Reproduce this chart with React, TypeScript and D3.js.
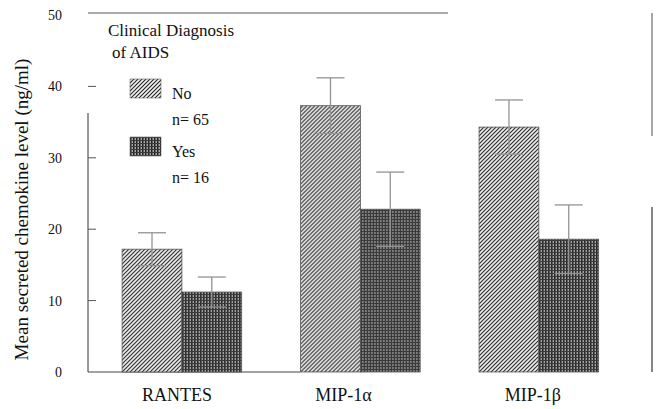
import React from "react";
import * as d3 from "d3";

const categories = ["RANTES", "MIP-1α", "MIP-1β"];
const seriesNames = ["No", "Yes"];
const seriesN = ["n= 65", "n= 16"];
const noValues = [17.2, 37.3, 34.3];
const yesValues = [11.2, 22.8, 18.6];
const noErrors = [2.3, 3.9, 3.8];
const yesErrors = [2.1, 5.2, 4.8];
const yTicks = [0, 10, 20, 30, 40, 50];
const yLabel = "Mean secreted chemokine level  (ng/ml)";
const legendTitle = ["Clinical Diagnosis", "of AIDS"];

const W = 659;
const H = 409;
const left = 88;
const right = 652;
const top = 15;
const bottom = 372;
const labelDx = [-5, -17, -6];

export default function App() {
  const y = d3.scaleLinear().domain([0, 50]).range([bottom, top]);
  const x = d3
    .scaleBand<string>()
    .domain(categories)
    .range([left, right])
    .paddingInner(0.33)
    .paddingOuter(0.245)
    .align(0.39);
  const xs = d3.scaleBand<string>().domain(seriesNames).range([0, x.bandwidth()]).padding(0);
  const values = [noValues, yesValues];
  const errors = [noErrors, yesErrors];
  const fills = ["url(#hatchNo)", "url(#hatchYes)"];
  const capW = 28;
  const frameTop = y(50) - 2;

  return (
    <svg width={W} height={H} style={{ position: "absolute", left: 0, top: 0, background: "#fff" }}>
      <style>{`.t { font-family: 'Liberation Serif', Tinos, serif; fill: #111; }`}</style>
      <defs>
        <pattern id="hatchNo" patternUnits="userSpaceOnUse" width={4} height={4}>
          <rect width={4} height={4} fill="#f2f2f2" />
          <path d="M-1,1 l2,-2 M0,4 l4,-4 M3,5 l2,-2" stroke="#2a2a2a" strokeWidth={1.2} />
        </pattern>
        <pattern id="hatchYes" patternUnits="userSpaceOnUse" width={3} height={3}>
          <rect width={3} height={3} fill="#a8a8a8" />
          <rect x={0} y={0} width={1.5} height={3} fill="#1e1e1e" />
          <rect x={0} y={0} width={3} height={1} fill="#3a3a3a" />
        </pattern>
      </defs>

      {/* frame (partially faded as in the scan) */}
      <line x1={left} x2={left} y1={113} y2={bottom} stroke="#333" strokeWidth={1} />
      <line x1={left} x2={448} y1={frameTop} y2={frameTop} stroke="#555" strokeWidth={1} />
      <line x1={right} x2={right} y1={frameTop} y2={136} stroke="#777" strokeWidth={1.3} />
      <line x1={right} x2={right} y1={207} y2={bottom} stroke="#444" strokeWidth={1.3} />
      <line x1={left} x2={300} y1={bottom} y2={bottom} stroke="#444" strokeWidth={1} />

      {/* y ticks */}
      {yTicks.map((t) => (
        <g key={t}>
          {t > 0 && t < 50 && (
            <line x1={left} x2={left + 8} y1={y(t)} y2={y(t)} stroke="#555" strokeWidth={1} />
          )}
          <text className="t" x={62} y={y(t)} dy="0.35em" fontSize={14} textAnchor="end">
            {t}
          </text>
        </g>
      ))}

      <text
        className="t"
        transform={`translate(28, ${(top + bottom) / 2 + 16}) rotate(-90)`}
        fontSize={19}
        textAnchor="middle"
      >
        {yLabel}
      </text>

      {/* bars */}
      {categories.map((c, ci) => (
        <g key={c} transform={`translate(${x(c)},0)`}>
          {seriesNames.map((s, si) => {
            const v = values[si][ci];
            return (
              <rect
                key={s}
                x={xs(s)}
                y={y(v)}
                width={xs.bandwidth()}
                height={y(0) - y(v)}
                fill={fills[si]}
                stroke="#555"
                strokeWidth={0.8}
              />
            );
          })}
          {seriesNames.map((s, si) => {
            const v = values[si][ci];
            const e = errors[si][ci];
            const cx = (xs(s) as number) + xs.bandwidth() / 2;
            return (
              <g key={s + "e"} stroke="#939393" strokeWidth={1.3}>
                <line x1={cx} x2={cx} y1={y(v + e)} y2={y(v - e)} />
                <line x1={cx - capW / 2} x2={cx + capW / 2} y1={y(v + e)} y2={y(v + e)} />
                <line x1={cx - capW / 2} x2={cx + capW / 2} y1={y(v - e)} y2={y(v - e)} />
              </g>
            );
          })}
          <text className="t" x={x.bandwidth() / 2 + labelDx[ci]} y={401} fontSize={18} textAnchor="middle">
            {c}
          </text>
        </g>
      ))}

      {/* legend */}
      <text className="t" x={108} y={36} fontSize={17}>{legendTitle[0]}</text>
      <text className="t" x={112} y={58} fontSize={17}>{legendTitle[1]}</text>
      {seriesNames.map((s, si) => (
        <g key={s} transform={`translate(130, ${79 + si * 58})`}>
          <rect x={0} y={0} width={31} height={19} fill={fills[si]} stroke="#666" strokeWidth={0.6} />
          <text className="t" x={42} y={20} fontSize={16}>{s}</text>
          <text className="t" x={42} y={46} fontSize={16}>{seriesN[si]}</text>
        </g>
      ))}
    </svg>
  );
}
